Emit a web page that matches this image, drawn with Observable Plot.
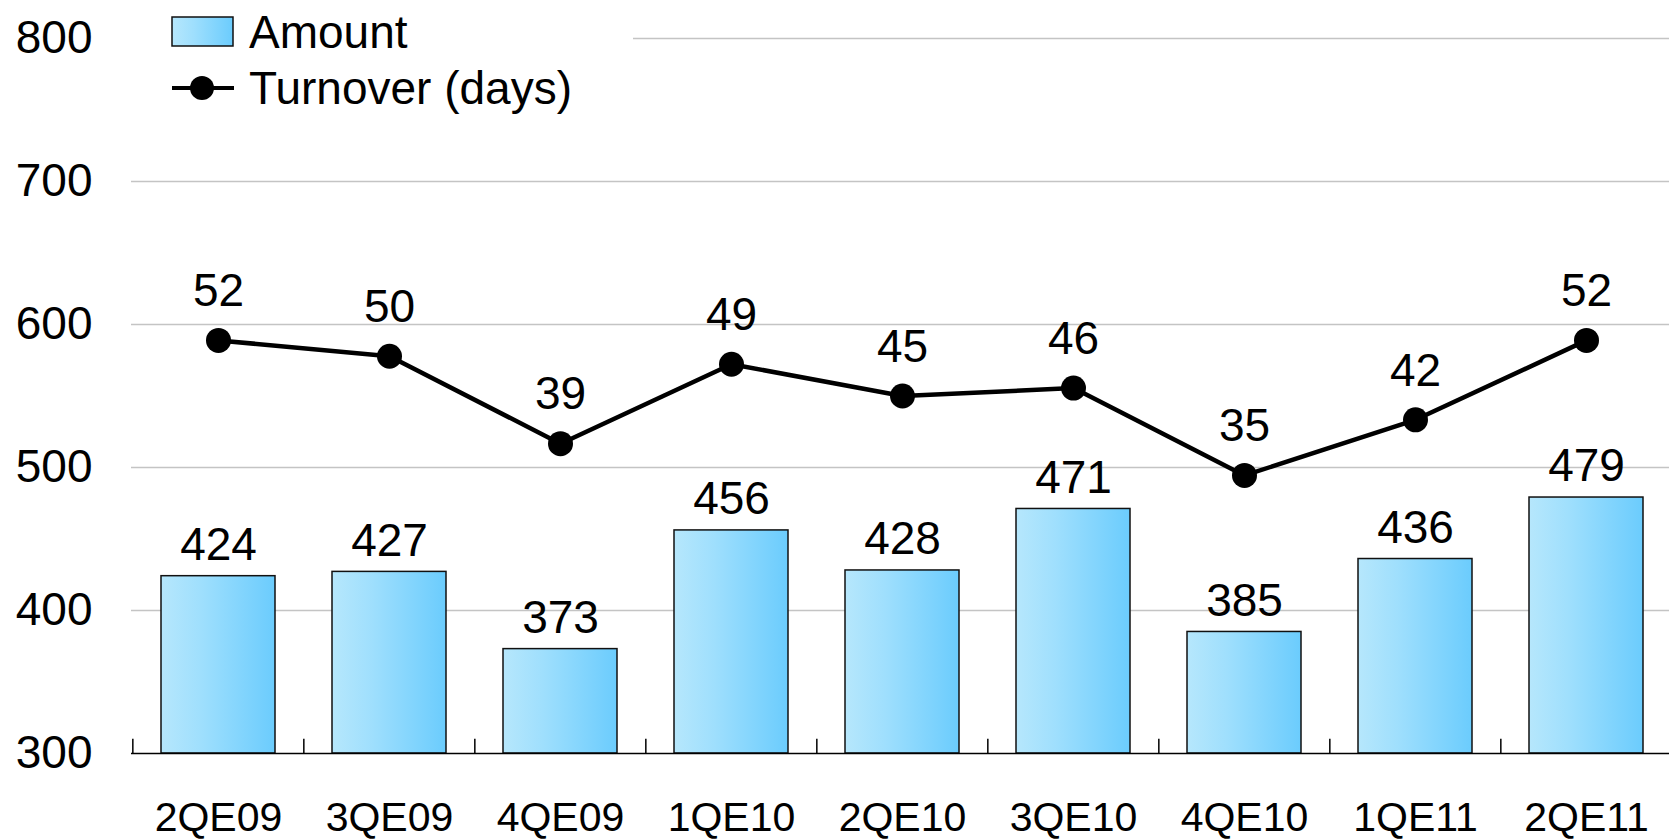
<!DOCTYPE html>
<html>
<head>
<meta charset="utf-8">
<script src="https://cdn.jsdelivr.net/npm/d3@7"></script>
<script src="https://cdn.jsdelivr.net/npm/@observablehq/plot@0.6"></script>
<style>
  html, body { margin: 0; padding: 0; background: #fff; }
  #wrap { position: relative; width: 1669px; height: 839px; overflow: hidden; font-family: "Liberation Sans", Arial, sans-serif; }
  #legend { position: absolute; left: 131px; top: 0; width: 502px; height: 112px; background: #fff; }
  .lg-row { position: absolute; left: 0; display: flex; align-items: center; font-size: 46px; color: #000; }
  .lg-row span { position: absolute; left: 118px; white-space: nowrap; line-height: 1; }
</style>
</head>
<body>
<div id="wrap"></div>
<script>
const quarters = ["2QE09","3QE09","4QE09","1QE10","2QE10","3QE10","4QE10","1QE11","2QE11"];
const amounts = [424, 427, 373, 456, 428, 471, 385, 436, 479];
const turnoverDays = [52, 50, 39, 49, 45, 46, 35, 42, 52];
const yTicks = [300, 400, 500, 600, 700, 800];
const gridValues = [400, 500, 600, 700, 800];

const W = 1669, H = 839, mL = 131, mR = -4, mT = 38, mB = 86;
const step = (W - mL - mR) / quarters.length;

// secondary (hidden) axis for turnover days: 0..90 days mapped onto 300..800
const dayToY = d3.scaleLinear().domain([0, 90]).range([300, 800]);

const barData = quarters.map((q, i) => ({q, v: amounts[i]}));
const lineData = quarters.map((q, i) => ({q, d: turnoverDays[i], y: dayToY(turnoverDays[i])}));

const font = "Liberation Sans, Arial, sans-serif";

const chart = Plot.plot({
  width: W, height: H,
  marginLeft: mL, marginRight: mR, marginTop: mT, marginBottom: mB,
  style: {fontFamily: font, background: "#fff", color: "#000", overflow: "visible"},
  x: {type: "band", domain: quarters, paddingInner: 0.336, paddingOuter: 0.168, align: 0.5},
  y: {domain: [300, 800]},
  marks: [
    Plot.ruleY(gridValues, {stroke: "#c4c4c4", strokeWidth: 1.5}),
    Plot.axisY({ticks: yTicks, tickSize: 0, tickPadding: 39, fontSize: 46, label: null}),
    Plot.axisX({tickSize: 0, tickPadding: 48, fontSize: 41, label: null}),
    Plot.barY(barData, {x: "q", y1: 300, y2: "v", fill: "url(#barGrad)", stroke: "#111", strokeWidth: 1.5}),
    Plot.ruleX(quarters, {x: d => d, dx: -step / 2, y1: 300, y2: 310, stroke: "#000", strokeWidth: 1.5}),
    Plot.ruleY([300], {stroke: "#000", strokeWidth: 1.5}),
    Plot.text(barData, {x: "q", y: "v", text: d => String(d.v), dy: -31, fontSize: 46, fill: "#000"}),
    Plot.line(lineData, {x: "q", y: "y", stroke: "#000", strokeWidth: 4.5}),
    Plot.dot(lineData, {x: "q", y: "y", r: 12.5, fill: "#000", stroke: "none"}),
    Plot.text(lineData, {x: "q", y: "y", text: d => String(d.d), dy: -49, fontSize: 46, fill: "#000"})
  ]
});

// gradient definition for bars
const svg = d3.select(chart);
const defs = svg.insert("defs", ":first-child");
const g = defs.append("linearGradient").attr("id", "barGrad").attr("x1", "0").attr("x2", "1").attr("y1", "0").attr("y2", "0");
g.append("stop").attr("offset", "0").attr("stop-color", "#b6e7fc");
g.append("stop").attr("offset", "0.35").attr("stop-color", "#9fdffd");
g.append("stop").attr("offset", "1").attr("stop-color", "#6bccfd");

const wrap = document.getElementById("wrap");
wrap.appendChild(chart);

// legend
const legend = document.createElement("div");
legend.id = "legend";
legend.innerHTML = `
  <div class="lg-row" style="top:16px;height:32px;">
    <svg width="64" height="32" style="position:absolute;left:40px;top:0">
      <defs><linearGradient id="lgGrad" x1="0" x2="1" y1="0" y2="0">
        <stop offset="0" stop-color="#b6e7fc"/><stop offset="0.35" stop-color="#9fdffd"/><stop offset="1" stop-color="#6bccfd"/>
      </linearGradient></defs>
      <rect x="1" y="1" width="61" height="29" fill="url(#lgGrad)" stroke="#111" stroke-width="1.5"/>
    </svg>
    <span style="top:-7px">Amount</span>
  </div>
  <div class="lg-row" style="top:72px;height:32px;">
    <svg width="64" height="32" style="position:absolute;left:40px;top:0">
      <line x1="1" x2="63" y1="16" y2="16" stroke="#000" stroke-width="4"/>
      <circle cx="31" cy="16" r="12" fill="#000"/>
    </svg>
    <span style="top:-7px">Turnover (days)</span>
  </div>`;
wrap.appendChild(legend);
</script>
</body>
</html>
